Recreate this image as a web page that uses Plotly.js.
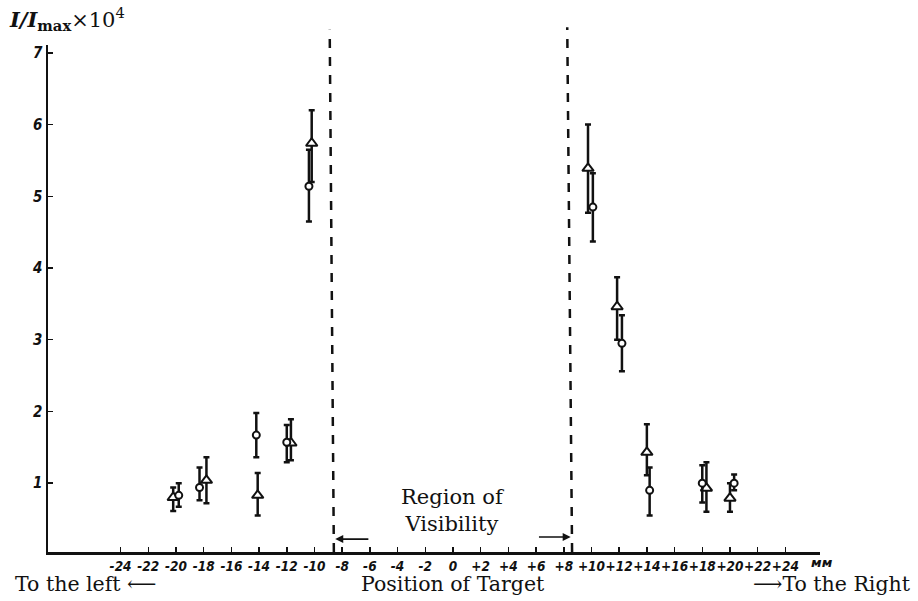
<!DOCTYPE html>
<html>
<head>
<meta charset="utf-8">
<script src="https://cdn.plot.ly/plotly-3.0.1.min.js"></script>
<style>
  html, body { margin: 0; padding: 0; background: #fff; }
  #chart { width: 918px; height: 601px; }
</style>
</head>
<body>
<div id="chart"></div>
<script>
// Triangle series (x in mm, value, upper and lower bar ends)
const triX  = [-20.2, -17.8, -14.1, -11.7, -10.2, 9.75, 11.85, 14.0, 18.3, 20.0];
const triY  = [0.80, 1.04, 0.83, 1.56, 5.74, 5.39, 3.46, 1.43, 0.93, 0.79];
const triHi = [0.94, 1.36, 1.14, 1.89, 6.20, 6.00, 3.87, 1.82, 1.29, 1.00];
const triLo = [0.61, 0.72, 0.55, 1.32, 5.20, 4.77, 3.00, 1.11, 0.60, 0.60];

// Circle series
const cirX  = [-19.8, -18.3, -14.2, -12.0, -10.4, 10.1, 12.2, 14.2, 18.0, 20.3];
const cirY  = [0.83, 0.94, 1.67, 1.57, 5.14, 4.85, 2.95, 0.90, 1.00, 1.00];
const cirHi = [1.00, 1.22, 1.98, 1.81, 5.65, 5.32, 3.34, 1.22, 1.25, 1.12];
const cirLo = [0.67, 0.76, 1.36, 1.29, 4.65, 4.37, 2.56, 0.55, 0.73, 0.90];

// Axis ticks
const xTickVals = [-24,-22,-20,-18,-16,-14,-12,-10,-8,-6,-4,-2,0,2,4,6,8,10,12,14,16,18,20,22,24];
const xTickText = ["-24","-22","-20","-18","-16","-14","-12","-10","-8","-6","-4","-2","0","+2","+4","+6","+8","+10","+12","+14","+16","+18","+20","+22","+24"];
const yTickVals = [1,2,3,4,5,6,7];
const yTickText = ["1","2","3","4","5","6","7"];
const unitLabel = "мм";

// Region of visibility boundaries (mm)
const visLeft = -8.6;
const visRight = 8.5;

const tickFont = {family: "DejaVu Sans Condensed, Liberation Sans Narrow, sans-serif", size: 13.5, color: "#111", weight: 700, style: "italic"};
const serif = "DejaVu Serif, Liberation Serif, serif";

function errPlus(y, hi) { return y.map((v, i) => hi[i] - v); }
function errMinus(y, lo) { return y.map((v, i) => v - lo[i]); }

const errStyle = {thickness: 2.5, width: 3, color: "#111"};

const traces = [
  {
    type: "scatter", mode: "markers", x: triX, y: triY, name: "triangles",
    marker: {symbol: "triangle-up", size: 10, color: "#fff", line: {color: "#111", width: 2}},
    error_y: Object.assign({type: "data", symmetric: false, array: errPlus(triY, triHi), arrayminus: errMinus(triY, triLo)}, errStyle),
    cliponaxis: false, showlegend: false
  },
  {
    type: "scatter", mode: "markers", x: cirX, y: cirY, name: "circles",
    marker: {symbol: "circle", size: 7, color: "#fff", line: {color: "#111", width: 2}},
    error_y: Object.assign({type: "data", symmetric: false, array: errPlus(cirY, cirHi), arrayminus: errMinus(cirY, cirLo)}, errStyle),
    cliponaxis: false, showlegend: false
  }
];

const layout = {
  width: 918, height: 601,
  margin: {l: 48, r: 98, t: 45, b: 49},
  paper_bgcolor: "#fff", plot_bgcolor: "#fff",
  showlegend: false,
  xaxis: {
    range: [-29.24, 26.5], showgrid: false, zeroline: false,
    showline: true, linecolor: "#111", linewidth: 2.5,
    ticks: "inside", ticklen: 5, tickwidth: 1.5, tickcolor: "#111",
    tickmode: "array", tickvals: xTickVals, ticktext: xTickText,
    tickfont: tickFont, tickangle: 0, ticklabelstandoff: 0
  },
  yaxis: {
    range: [0.04, 7.11], showgrid: false, zeroline: false,
    showline: true, linecolor: "#111", linewidth: 2.5,
    ticks: "inside", ticklen: 5, tickwidth: 1.5, tickcolor: "#111",
    tickmode: "array", tickvals: yTickVals, ticktext: yTickText,
    tickfont: Object.assign({}, tickFont, {size: 15})
  },
  shapes: [
    {type: "line", xref: "x", yref: "paper", x0: visLeft, y0: 0, x1: visLeft - 0.3, y1: 1.03,
     line: {color: "#111", width: 2.5, dash: "dash"}},
    {type: "line", xref: "x", yref: "paper", x0: visRight + 0.1, y0: 0, x1: visRight - 0.25, y1: 1.035,
     line: {color: "#111", width: 2.5, dash: "dash"}}
  ],
  annotations: [
    {xref: "paper", yref: "paper", x: -0.053, y: 1.085, xanchor: "left", yanchor: "top", showarrow: false,
     text: "<b><i>I/I</i></b><sub><b>max</b></sub>×10<sup>4</sup>",
     font: {family: serif, size: 21, color: "#111"}},
    {xref: "x", yref: "y", x: 0, y: 0.62, xanchor: "center", yanchor: "middle", showarrow: false,
     text: "Region of<br>Visibility", align: "center",
     font: {family: serif, size: 21, color: "#111"}},
    {xref: "x", yref: "y", x: visLeft + 0.1, y: 0.22, ax: -6.0, ay: 0.22, axref: "x", ayref: "y",
     showarrow: true, arrowhead: 2, arrowsize: 1, arrowwidth: 1.6, arrowcolor: "#111", text: ""},
    {xref: "x", yref: "y", x: visRight, y: 0.25, ax: 6.1, ay: 0.25, axref: "x", ayref: "y",
     showarrow: true, arrowhead: 2, arrowsize: 1, arrowwidth: 1.6, arrowcolor: "#111", text: ""},
    {xref: "paper", yref: "paper", x: 1.003, y: -0.04, xanchor: "center", yanchor: "bottom", showarrow: false,
     text: unitLabel, font: {family: "DejaVu Sans", size: 13, color: "#111", weight: 700, style: "italic"}},
    {xref: "paper", yref: "paper", x: -0.045, y: -0.035, xanchor: "left", yanchor: "top", showarrow: false,
     text: "To the left ⟵", font: {family: serif, size: 20.5, color: "#111"}},
    {xref: "x", yref: "paper", x: 0, y: -0.035, xanchor: "center", yanchor: "top", showarrow: false,
     text: "Position of Target", font: {family: serif, size: 20.5, color: "#111"}},
    {xref: "paper", yref: "paper", x: 1.12, y: -0.035, xanchor: "right", yanchor: "top", showarrow: false,
     text: "⟶To the Right", font: {family: serif, size: 20.5, color: "#111"}}
  ]
};

Plotly.newPlot("chart", traces, layout, {staticPlot: true, displayModeBar: false});
</script>
</body>
</html>
